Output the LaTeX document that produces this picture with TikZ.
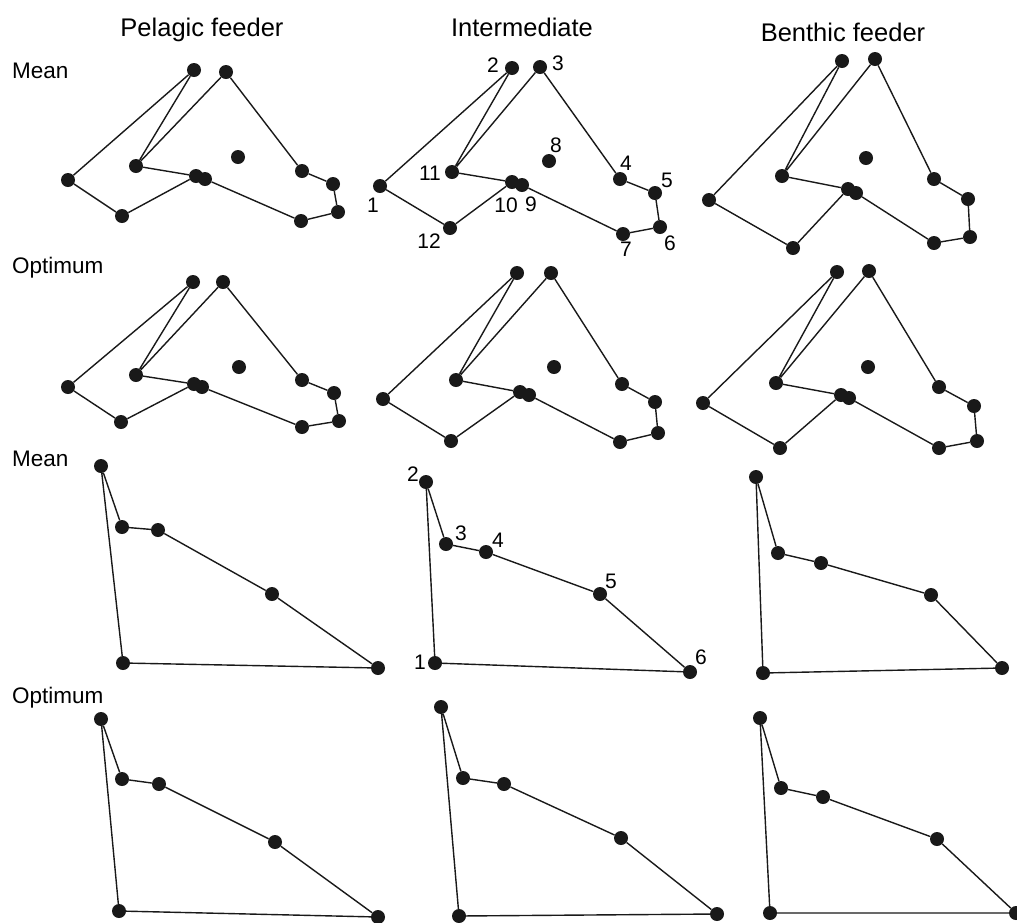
\documentclass[tikz,border=0pt]{standalone}
\usepackage{fontspec}
\setmainfont{Liberation Sans}

\tikzset{
  dot/.style={circle, fill=black!90, inner sep=0pt, minimum size=14pt},
  outline/.style={draw=black!90, line width=1.4pt, line join=round},
  colhead/.style={font=\fontsize{25.5}{30}\selectfont, anchor=base, inner sep=0pt},
  rowhead/.style={font=\fontsize{22.5}{27}\selectfont, anchor=base west, inner sep=0pt},
  lmk/.style={font=\fontsize{21}{25}\selectfont, inner sep=0pt},
}

\begin{document}
\begin{tikzpicture}[x=1pt, y=-1pt]
  \useasboundingbox (0,0) rectangle (1017,922);

  % column and row headings
  \node[colhead] (hpel) at (202,36) {Pelagic feeder};
  \node[colhead] (hint) at (522,36) {Intermediate};
  \node[colhead] (hben) at (843,41) {Benthic feeder};
  \node[rowhead] (rmeanA) at (12,78) {Mean};
  \node[rowhead] (roptA) at (12,273) {Optimum};
  \node[rowhead] (rmeanB) at (12,466) {Mean};
  \node[rowhead] (roptB) at (12,703) {Optimum};

  % twelve landmarks, mean shapes
  \foreach \n/\x/\y in {1/68/180, 2/194/70, 3/226/72, 4/302/171, 5/333/184, 6/338/212,
      7/301/221, 8/238/157, 9/205/179, 10/196/176, 11/136/166, 12/122/216}
    \node[dot] (pa\n) at (\x,\y) {};
  \foreach \n/\x/\y in {1/380/186, 2/512/68, 3/540/67, 4/620/179, 5/655/193, 6/660/227,
      7/623/234, 8/549/161, 9/522/185, 10/512/182, 11/452/172, 12/450/228}
    \node[dot] (ia\n) at (\x,\y) {};
  \foreach \n/\x/\y in {1/709/200, 2/842/61, 3/875/59, 4/934/179, 5/968/199, 6/970/237,
      7/934/243, 8/866/158, 9/856/193, 10/848/189, 11/782/176, 12/793/248}
    \node[dot] (ba\n) at (\x,\y) {};

  % twelve landmarks, optimum shapes
  \foreach \n/\x/\y in {1/68/387, 2/193/282, 3/223/282, 4/302/380, 5/334/393, 6/339/421,
      7/302/427, 8/239/367, 9/202/387, 10/194/384, 11/136/375, 12/121/422}
    \node[dot] (po\n) at (\x,\y) {};
  \foreach \n/\x/\y in {1/383/399, 2/517/273, 3/551/273, 4/622/384, 5/655/402, 6/658/433,
      7/620/442, 8/554/367, 9/529/395, 10/520/392, 11/456/380, 12/451/441}
    \node[dot] (io\n) at (\x,\y) {};
  \foreach \n/\x/\y in {1/703/403, 2/837/272, 3/869/271, 4/939/387, 5/974/406, 6/977/441,
      7/939/448, 8/868/367, 9/849/398, 10/841/395, 11/776/383, 12/780/448}
    \node[dot] (bo\n) at (\x,\y) {};

  \foreach \p in {pa, ia, ba, po, io, bo} {
    \draw[outline] (\p12) -- (\p1) -- (\p2) -- (\p11) -- (\p3) -- (\p4) -- (\p5)
      -- (\p6) -- (\p7) -- (\p9) -- (\p10) -- (\p12);
    \draw[outline] (\p11) -- (\p10);
  }

  % six landmarks
  \foreach \n/\x/\y in {1/123/663, 2/101/466, 3/122/527, 4/158/530, 5/272/594, 6/378/668}
    \node[dot] (pm\n) at (\x,\y) {};
  \foreach \n/\x/\y in {1/435/663, 2/426/482, 3/446/544, 4/486/552, 5/600/594, 6/690/672}
    \node[dot] (im\n) at (\x,\y) {};
  \foreach \n/\x/\y in {1/763/673, 2/756/477, 3/778/553, 4/821/563, 5/931/595, 6/1002/668}
    \node[dot] (bm\n) at (\x,\y) {};
  \foreach \n/\x/\y in {1/119/911, 2/101/719, 3/122/779, 4/159/784, 5/275/842, 6/378/917}
    \node[dot] (pp\n) at (\x,\y) {};
  \foreach \n/\x/\y in {1/459/916, 2/441/707, 3/463/778, 4/504/784, 5/621/838, 6/717/914}
    \node[dot] (ip\n) at (\x,\y) {};
  \foreach \n/\x/\y in {1/770/913, 2/760/718, 3/781/788, 4/823/797, 5/937/839, 6/1016/913}
    \node[dot] (bp\n) at (\x,\y) {};

  \foreach \p in {pm, im, bm, pp, ip, bp}
    \draw[outline] (\p1) -- (\p2) -- (\p3) -- (\p4) -- (\p5) -- (\p6) -- (\p1);

  % landmark numbers
  \node[lmk] (ta1) at (373,205) {1};
  \node[lmk] (ta2) at (493,65) {2};
  \node[lmk] (ta3) at (558,63) {3};
  \node[lmk] (ta4) at (626,163) {4};
  \node[lmk] (ta5) at (667,180) {5};
  \node[lmk] (ta6) at (670,243) {6};
  \node[lmk] (ta7) at (626,249) {7};
  \node[lmk] (ta8) at (556,145) {8};
  \node[lmk] (ta9) at (531,204) {9};
  \node[lmk] (ta10) at (506,205) {10};
  \node[lmk] (ta11) at (430,173) {11};
  \node[lmk] (ta12) at (429,241) {12};

  \node[lmk] (tb1) at (420,662) {1};
  \node[lmk] (tb2) at (413,474) {2};
  \node[lmk] (tb3) at (461,533) {3};
  \node[lmk] (tb4) at (498,540) {4};
  \node[lmk] (tb5) at (611,581) {5};
  \node[lmk] (tb6) at (701,657) {6};
\end{tikzpicture}
\end{document}
